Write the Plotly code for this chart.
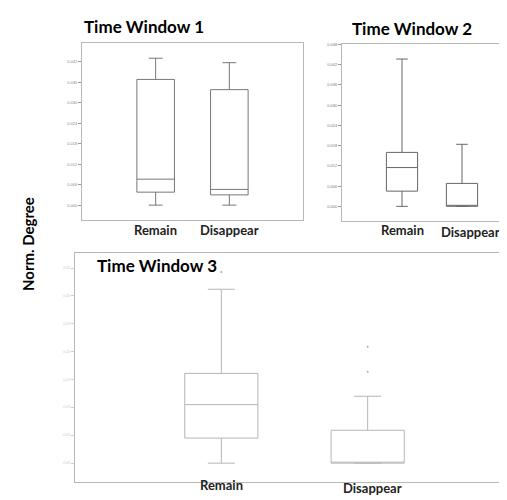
import plotly.graph_objects as go

categories = ["Remain", "Disappear"]
panel_titles = ["Time Window 1", "Time Window 2", "Time Window 3"]
y_title = "Norm. Degree"

# box statistics per window: [Remain, Disappear]
tw1_min = [0.000, 0.000]
tw1_q1 = [0.0038, 0.0030]
tw1_med = [0.0076, 0.0046]
tw1_q3 = [0.0368, 0.0338]
tw1_max = [0.0430, 0.0417]

tw2_min = [0.000, 0.000]
tw2_q1 = [0.0045, 0.000]
tw2_med = [0.0115, 0.000]
tw2_q3 = [0.0160, 0.0068]
tw2_max = [0.0437, 0.0184]

tw3_min = [0.000, 0.000]
tw3_q1 = [0.0045, 0.000]
tw3_med = [0.0105, 0.000]
tw3_q3 = [0.0161, 0.0059]
tw3_max = [0.0312, 0.0120]
tw3_out_cat = ["Remain", "Disappear", "Disappear"]
tw3_out_val = [0.0343, 0.0209, 0.0164]

tick_vals_12 = [0.000, 0.006, 0.012, 0.018, 0.024, 0.030, 0.036, 0.042, 0.048]
tick_vals_3 = [0.000, 0.005, 0.010, 0.015, 0.020, 0.025, 0.030, 0.035]

fig = go.Figure()

def add_box(xa, ya, mn, q1, med, q3, mx, color, width):
    fig.add_trace(go.Box(
        x=categories, q1=q1, median=med, q3=q3, lowerfence=mn, upperfence=mx,
        xaxis=xa, yaxis=ya, width=width, whiskerwidth=0.37,
        fillcolor="rgba(0,0,0,0)", line=dict(color=color, width=1),
        boxpoints=False, showlegend=False, hoverinfo="skip"))

add_box("x", "y", tw1_min, tw1_q1, tw1_med, tw1_q3, tw1_max, "#777777", 0.51)
add_box("x2", "y2", tw2_min, tw2_q1, tw2_med, tw2_q3, tw2_max, "#666666", 0.52)
add_box("x3", "y3", tw3_min, tw3_q1, tw3_med, tw3_q3, tw3_max, "#b5b5b5", 0.5)
fig.add_trace(go.Scatter(x=tw3_out_cat, y=tw3_out_val, mode="markers", xaxis="x3", yaxis="y3",
                         marker=dict(size=2, color="#aaaaaa"), showlegend=False, hoverinfo="skip"))

def xax(domain, rng, anchor):
    return dict(domain=domain, range=rng, type="category", categoryorder="array",
                categoryarray=categories, showticklabels=False, ticks="", anchor=anchor,
                showgrid=False, zeroline=False, showline=True, mirror=True,
                linecolor="#b8b8b8", linewidth=1)

def yax(domain, rng, vals, fsize, fcolor, tcolor, anchor):
    return dict(domain=domain, range=rng, tickvals=vals, tickformat=".3f", anchor=anchor,
                ticks="outside", ticklen=3, tickcolor=tcolor, tickwidth=1,
                tickfont=dict(size=fsize, color=fcolor, family="Liberation Sans"),
                showgrid=False, zeroline=False, showline=True, mirror=True,
                linecolor="#b8b8b8", linewidth=1)

fig.update_layout(
    width=507, height=500, margin=dict(l=0, r=0, t=0, b=0),
    paper_bgcolor="white", plot_bgcolor="white",
    xaxis=xax([74/507, 295/507], [-1, 2], "y"),
    yaxis=yax([1-211/500, 1-33/500], [-0.0044, 0.0475], tick_vals_12[:-1], 4, "#888888", "#999999", "x"),
    xaxis2=xax([334/507, 505/507], [-1, 1.85], "y2"),
    yaxis2=yax([1-212/500, 1-34/500], [-0.0044, 0.0482], tick_vals_12, 4, "#777777", "#999999", "x2"),
    xaxis3=xax([67/507, 506/507], [-1, 2], "y3"),
    yaxis3=yax([1-474/500, 1-244/500], [-0.0034, 0.0377], tick_vals_3, 3, "#cccccc", "#cccccc", "x3"),
)

tf = dict(family="Lato", size=17, color="black", weight="bold")
lf = dict(family="Lato", size=13, color="#222222", weight="bold")
ann = [
    dict(text=panel_titles[0], x=74/507, y=1-17/500, xref="paper", yref="paper", xanchor="left", yanchor="middle", showarrow=False, font=tf),
    dict(text=panel_titles[1], x=342/507, y=1-19/500, xref="paper", yref="paper", xanchor="left", yanchor="middle", showarrow=False, font=tf),
    dict(text=panel_titles[2], x=87/507, y=1-257/500, xref="paper", yref="paper", xanchor="left", yanchor="middle", showarrow=False, font=tf),
    dict(text=y_title, x=20/507, y=1-235/500, xref="paper", yref="paper", xanchor="center", yanchor="middle", textangle=-90, showarrow=False, font=dict(family="Lato", size=15, color="black", weight="bold")),
    dict(text=categories[0], x=categories[0], xref="x", y=1-221/500, yref="paper", showarrow=False, font=lf),
    dict(text=categories[1], x=categories[1], xref="x", y=1-221/500, yref="paper", showarrow=False, font=lf),
    dict(text=categories[0], x=categories[0], xref="x2", y=1-221/500, yref="paper", showarrow=False, font=lf),
    dict(text=categories[1], x=categories[1], xref="x2", xshift=8, y=1-223/500, yref="paper", showarrow=False, font=lf),
    dict(text=categories[0], x=categories[0], xref="x3", y=1-487/500, yref="paper", showarrow=False, font=lf),
    dict(text=categories[1], x=categories[1], xref="x3", xshift=5, y=1-490/500, yref="paper", showarrow=False, font=lf),
]
fig.update_layout(annotations=ann)

fig.write_html("out.html")
